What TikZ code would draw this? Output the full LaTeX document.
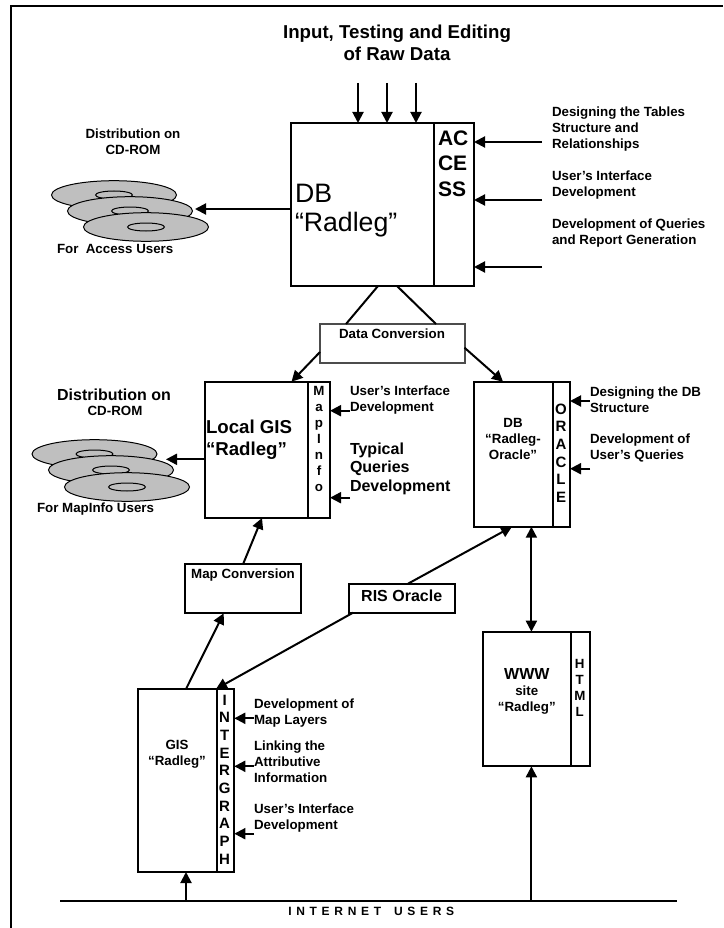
\documentclass[tikz,border=0pt]{standalone}
\usepackage{fontspec}
\setmainfont{Liberation Sans}
\usetikzlibrary{arrows.meta,positioning,shapes.geometric}
\tikzset{
  box/.style={draw, line width=2pt, inner sep=0pt, outer sep=0pt, anchor=north west},
  bold/.style 2 args={font=\bfseries\fontsize{#1}{#2}\selectfont},
  txt/.style={inner sep=0pt, outer sep=0pt, align=left, anchor=west, bold={13.33}{16}},
  ctxt/.style={txt, align=center, anchor=center},
  cdisc/.style={draw, ellipse, fill=black!25, line width=1pt, inner sep=0pt, minimum width=125pt, minimum height=28.6pt},
  chole/.style={draw, ellipse, fill=black!25, line width=1pt, inner sep=0pt, minimum width=37pt, minimum height=8pt}
}
\begin{document}
\begin{tikzpicture}[x=1pt, y=-1pt, >={Triangle[length=11pt,width=11pt]}, line width=2pt]
    \useasboundingbox (0,0) rectangle (723,928);
    \draw[line width=2.2pt] (11,928) -- (11,6) -- (723,6);

    \node[ctxt, bold={18.67}{21.5}] (title) at (397,43) {Input, Testing and Editing\\of Raw Data};

    % raw database
    \node[box, minimum width=142.5pt, minimum height=163pt] (dbbox) at (291,123) {};
    \node[box, anchor=west, minimum width=40.5pt, minimum height=163pt, right=0pt of dbbox] (accessbar) {};
    \node[txt, align=left, font=\fontsize{26.67}{29.5}\selectfont] (dbtxt) at (295,210.5) {DB\\“Radleg”};
    \node[txt, bold={21}{25.3}] (accesstxt) at (438,163.5) {AC\\CE\\SS};
    \foreach \n/\x in {1/358,2/387,3/416} {
      \coordinate (raw\n) at (\x,83);
      \draw[->] (raw\n) -- (raw\n |- dbbox.north);
    }
    \foreach \n/\y in {1/142,2/200,3/267} {
      \coordinate (acc\n) at (542,\y);
      \draw[->] (acc\n) -- (accessbar.east |- acc\n);
    }
    \node[txt] (acclab1) at (552,129.5) {Designing the Tables\\Structure and\\Relationships};
    \node[txt] (acclab2) at (552,185) {User’s Interface\\Development};
    \node[txt] (acclab3) at (552,233) {Development of Queries\\and Report Generation};

    % discs for access users
    \foreach \n/\x/\y in {1/114/195,2/130/211,3/146/227} {
      \node[cdisc] (acd\n) at (\x,\y) {};
      \node[chole] (ahole\n) at (\x,\y) {};
    }
    \node[ctxt] (acdtxt) at (133,142) {Distribution on\\CD-ROM};
    \node[txt] (acdusers) at (57,249) {For\ \ Access Users};
    \coordinate (acdtip) at (195,209);
    \draw[->] (dbbox.west |- acdtip) -- (acdtip);

    % conversion
    \node[box, draw=black!70, minimum width=144.5pt, minimum height=39pt] (datacv) at (320,324) {};
    \node[ctxt] (datacvtxt) at (392,334) {Data Conversion};
    \draw (378,0 |- dbbox.south) -- (346,0 |- datacv.north);
    \draw (397,0 |- dbbox.south) -- (436,0 |- datacv.north);

    % local gis
    \node[box, minimum width=102.7pt, minimum height=136.3pt] (localgis) at (205,381.7) {};
    \node[box, anchor=west, minimum width=22.3pt, minimum height=136.3pt, right=0pt of localgis] (mapinfobar) {};
    \node[txt, bold={18.67}{21.5}] (localtxt) at (206,439.5) {Local GIS\\“Radleg”};
    \node[ctxt] (mapinfotxt) at (319,439) {M\\a\\p\\I\\n\\f\\o};
    \foreach \n/\y in {1/410.7,2/497.7} {
      \coordinate (mi\n) at (350,\y);
      \draw[->] (mi\n) -- (mapinfobar.east |- mi\n);
    }
    \node[txt] (milab1) at (350,399.7) {User’s Interface\\Development};
    \node[txt, bold={16}{18.4}] (milab2) at (350,468.5) {Typical\\Queries\\Development};
    \draw[->] (datacv.west |- 0,352) -- (291.5,0 |- localgis.north);

    % discs for mapinfo users
    \foreach \n/\x/\y in {1/94.5/454,2/111/470,3/127/487} {
      \node[cdisc] (mcd\n) at (\x,\y) {};
      \node[chole] (mhole\n) at (\x,\y) {};
    }
    \node[ctxt, bold={16}{18.4}] (mcdtxt1) at (114,394.7) {Distribution on};
    \node[ctxt] (mcdtxt2) at (115,411.3) {CD-ROM};
    \node[txt] (mcdusers) at (37,508.7) {For MapInfo Users};
    \coordinate (mcdtip) at (166,459.3);
    \draw[->] (localgis.west |- mcdtip) -- (mcdtip);

    % oracle database
    \node[box, minimum width=79pt, minimum height=145pt] (oradb) at (474,381.7) {};
    \node[box, anchor=west, minimum width=17pt, minimum height=145pt, right=0pt of oradb] (oraclebar) {};
    \node[ctxt] (oratxt) at (513,439) {DB\\“Radleg-\\Oracle”};
    \node[ctxt, bold={15}{17.6}] (oracletxt) at (561,453) {O\\R\\A\\C\\L\\E};
    \foreach \n/\y in {1/401,2/468.7} {
      \coordinate (or\n) at (590,\y);
      \draw[->] (or\n) -- (oraclebar.east |- or\n);
    }
    \node[txt] (orlab1) at (590,399.7) {Designing the DB\\Structure};
    \node[txt] (orlab2) at (590,447.7) {Development of\\User’s Queries};
    \draw[->] (datacv.east |- 0,347.7) -- (503,0 |- oradb.north);

    % map conversion and ris
    \node[box, minimum width=115.6pt, minimum height=49pt] (mapcv) at (185.4,564.3) {};
    \node[ctxt] (mapcvtxt) at (243,574.7) {Map Conversion};
    \node[box, minimum width=106pt, minimum height=29pt, ctxt, bold={16}{18.4}, anchor=north west, text depth=4.5pt] (risora) at (348.7,583.7) {RIS Oracle};
    \draw[->] (243,0 |- mapcv.north) -- (262,0 |- localgis.south);
    \draw[->] (408,0 |- risora.north) -- (512,0 |- oradb.south);

    % gis
    \node[box, minimum width=78.8pt, minimum height=183pt] (gisbox) at (138,689) {};
    \node[box, anchor=west, minimum width=17.5pt, minimum height=183pt, right=0pt of gisbox] (intergraphbar) {};
    \node[ctxt] (gistxt) at (177,754) {GIS\\“Radleg”};
    \node[ctxt, bold={15}{17.7}] (intergraphtxt) at (224.6,779.5) {I\\N\\T\\E\\R\\G\\R\\A\\P\\H};
    \foreach \n/\y in {1/718.3,2/766.3,3/833.7} {
      \coordinate (ig\n) at (254,\y);
      \draw[->] (ig\n) -- (intergraphbar.east |- ig\n);
    }
    \node[txt] (iglab1) at (254,712.7) {Development of\\Map Layers};
    \node[txt] (iglab2) at (254,762) {Linking the\\Attributive\\Information};
    \node[txt] (iglab3) at (254,817.7) {User’s Interface\\Development};
    \draw[->] (186,0 |- gisbox.north) -- (223.7,0 |- mapcv.south);
    \draw[->] (353,0 |- risora.south) -- (216,0 |- gisbox.north);

    % www
    \node[box, minimum width=87.6pt, minimum height=134.6pt] (wwwbox) at (483.4,631.7) {};
    \node[box, anchor=west, minimum width=19pt, minimum height=134.6pt, right=0pt of wwwbox] (htmlbar) {};
    \node[ctxt, bold={16}{18.4}] (wwwtxt) at (526.8,674.3) {WWW};
    \node[ctxt] (sitetxt) at (526.8,699.7) {site\\“Radleg”};
    \node[ctxt] (htmltxt) at (579.8,687.5) {H\\T\\M\\L};
    \draw[<->] (531.4,0 |- oradb.south) -- (531.4,0 |- wwwbox.north);

    % internet users
    \coordinate (netleft) at (60,901);
    \coordinate (netright) at (676.7,901);
    \draw[line width=2.2pt] (netleft) -- (netright);
    \node[ctxt, bold={12}{14}] (nettxt) at (371.3,911.3) {\addfontfeature{LetterSpace=39}INTERNET\hspace{5pt} USERS};
    \draw[->] (186,0 |- netleft) -- (186,0 |- gisbox.south);
    \draw[->] (531.4,0 |- netleft) -- (531.4,0 |- wwwbox.south);
\end{tikzpicture}
\end{document}
